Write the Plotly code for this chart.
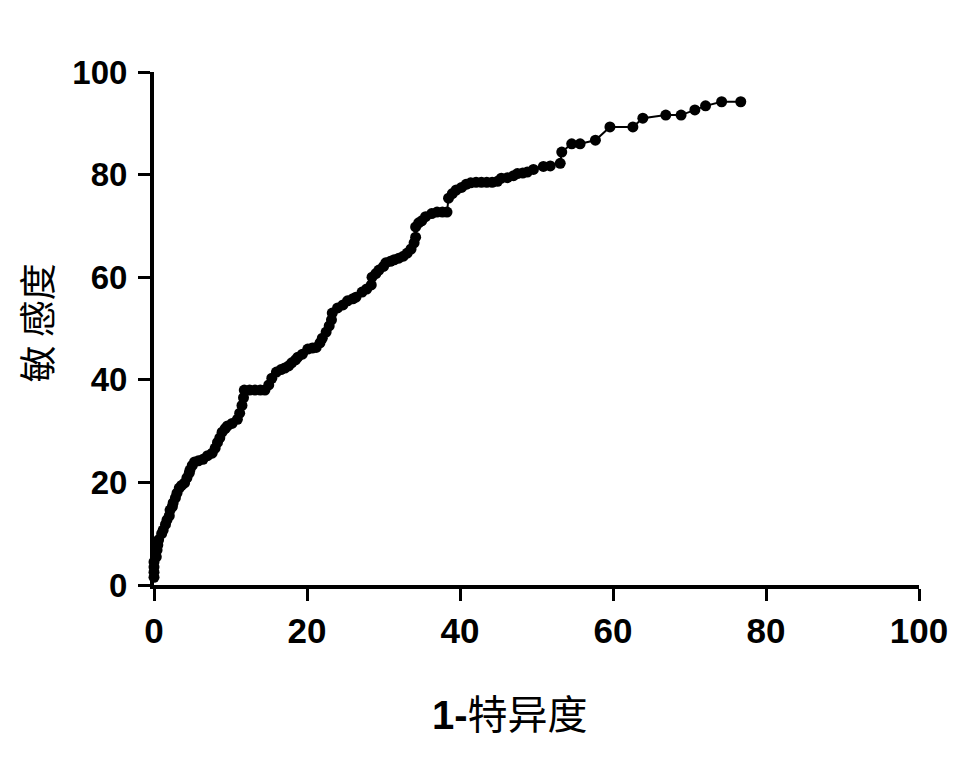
import plotly.graph_objects as go

# 1-specificity (%) and sensitivity (%)
fpr = [0, 0, 0, 0, 0.3, 0.4, 0.5, 0.6, 1.0, 1.2, 1.5, 1.7, 2.0, 2.1, 2.4, 2.5, 2.8, 3.0, 3.3, 3.6,
       4.0, 4.3, 4.6, 4.7, 5.0, 5.3, 5.8, 6.4, 7.0, 7.6, 8.0, 8.3, 8.6, 8.9, 9.3, 9.6, 10.2, 10.9, 11.2, 11.5,
       11.7, 11.8, 12.5, 13.2, 13.9, 14.5, 15.0, 15.4, 16.0, 16.6, 17.1, 17.6, 18.0, 18.5, 18.8, 19.4, 20.1, 20.7, 21.2, 21.7,
       22.0, 22.5, 22.9, 23.2, 23.3, 24.0, 24.7, 25.3, 26.0, 26.4, 27.2, 27.8, 28.4, 28.5, 29.0, 29.4, 30.0, 30.3, 30.9, 31.4,
       32.0, 32.6, 33.1, 33.6, 34.0, 34.2, 34.2, 34.6, 35.0, 35.5, 36.3, 37.0, 37.7, 38.3, 38.5, 39.0, 39.5, 40.2, 40.8, 41.4,
       42.1, 42.8, 43.5, 44.2, 44.9, 45.4, 46.2, 47.0, 47.5, 48.2, 48.8, 49.6, 50.9, 51.8, 53.1, 53.3, 54.6, 55.7, 57.7, 59.6,
       62.6, 63.9, 66.9, 68.9, 70.7, 72.1, 74.2, 76.7]
sens = [1.5, 2.5, 3.5, 4.5, 5.5, 6.8, 7.8, 8.8, 10.0, 10.7, 11.8, 12.7, 13.5, 14.6, 15.3, 16.0, 17.0, 17.9, 18.9, 19.4,
        19.9, 20.9, 21.8, 22.4, 23.3, 24.0, 24.2, 24.5, 25.2, 25.7, 26.7, 27.8, 28.7, 29.8, 30.5, 31.0, 31.5, 32.3, 33.5, 35.0,
        36.5, 38.0, 38.0, 38.0, 38.0, 38.0, 39.0, 40.3, 41.5, 42.0, 42.3, 42.7, 43.3, 43.9, 44.4, 45.0, 46.0, 46.2, 46.3, 47.2,
        48.1, 49.3, 50.5, 51.7, 53.0, 54.0, 54.6, 55.4, 55.8, 56.1, 57.1, 57.7, 58.5, 60.0, 60.7, 61.4, 62.1, 62.8, 63.1, 63.4,
        63.7, 64.1, 64.7, 65.5, 66.7, 67.8, 69.8, 70.6, 71.0, 71.8, 72.4, 72.7, 72.7, 72.7, 75.4, 76.3, 77.0, 77.5, 78.1, 78.4,
        78.5, 78.5, 78.5, 78.5, 78.7, 79.3, 79.4, 79.8, 80.2, 80.3, 80.5, 81.0, 81.6, 81.7, 82.2, 84.4, 86.0, 86.0, 86.7, 89.3,
        89.3, 91.0, 91.6, 91.6, 92.6, 93.4, 94.2, 94.2]

tick_vals = [0, 20, 40, 60, 80, 100]
tick_text = ["0", "20", "40", "60", "80", "100"]
x_title = "<b>1-</b>特异度"
y_title = "敏 感度"

fig = go.Figure()
fig.add_trace(go.Scatter(
    x=fpr, y=sens, mode="lines+markers",
    line=dict(color="black", width=2),
    marker=dict(color="black", size=11),
    cliponaxis=False, showlegend=False,
))

axis_common = dict(
    range=[0, 100], showgrid=False, zeroline=False,
    showline=True, linecolor="black", linewidth=4,
    ticks="outside", ticklen=12, tickwidth=3, tickcolor="black",
    tickvals=tick_vals, ticktext=tick_text,
)
fig.update_xaxes(**axis_common, ticklabelstandoff=0,
                 tickfont=dict(family="Liberation Sans, Arial", size=35, color="black", weight="bold"))
fig.update_yaxes(**axis_common, ticklabelstandoff=4,
                 tickfont=dict(family="Liberation Sans, Arial", size=33, color="black", weight="bold"))

fig.add_annotation(text=x_title, xref="paper", yref="paper",
                   x=(511 - 154) / 768, y=-(715 - 585) / 513, showarrow=False,
                   xanchor="center", yanchor="middle",
                   font=dict(family="Liberation Sans, Noto Sans CJK SC", size=40, color="black"))
fig.add_annotation(text=y_title, xref="paper", yref="paper",
                   x=-(154 - 36) / 768, y=(585 - 323) / 513, showarrow=False, textangle=-90,
                   xanchor="center", yanchor="middle", borderpad=0,
                   font=dict(family="Noto Sans CJK SC", size=37, color="black"))

fig.update_layout(
    width=952, height=759,
    margin=dict(l=146, r=38, t=64, b=182),
    plot_bgcolor="white", paper_bgcolor="white",
)
fig.write_html("out.html")
